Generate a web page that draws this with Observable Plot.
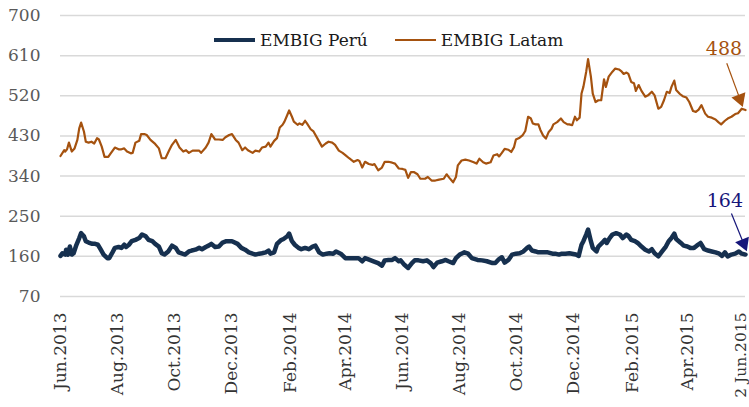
<!DOCTYPE html>
<html>
<head>
<meta charset="utf-8">
<script src="https://cdn.jsdelivr.net/npm/d3@7"></script>
<script src="https://cdn.jsdelivr.net/npm/@observablehq/plot@0.6"></script>
<style>
  html, body { margin: 0; padding: 0; background: #fff; }
  #wrap { position: relative; width: 749px; height: 407px; font-family: "DejaVu Serif", serif; }
  #legend { position: absolute; top: 30px; left: 214px; display: flex; align-items: center; font-size: 17px; color: #1a1a1a; white-space: nowrap; }
  .sw { display: inline-block; width: 41px; margin-right: 5px; }
  .item { display: flex; align-items: center; margin-right: 27px; }
</style>
</head>
<body>
<div id="wrap">
  <div id="chart"></div>
  <div id="legend"></div>
</div>
<script>
// ---- Data (days counted from the start date) ----
const startDate = "2013-06-01";
const seriesNames = ["EMBIG Perú", "EMBIG Latam"];
const seriesColors = ["#16304f", "#a5520f"];

const latamDays = [0,4,5,7,9,11,12,15,18,20,22,25,27,30,33,36,39,41,44,47,51,53,58,62,65,68,71,75,77,80,84,86,90,92,96,101,105,108,112,116,119,123,127,131,134,137,141,144,148,150,155,158,161,165,169,173,176,180,
183,187,190,194,197,200,205,208,212,215,219,222,224,228,231,234,237,239,242,244,247,249,253,255,258,261,263,267,270,274,279,283,286,290,293,297,301,304,308,313,317,319,322,325,329,333,335,339,343,346,350,354,357,361,
365,368,371,374,377,381,384,389,392,396,400,404,409,412,415,419,422,424,428,432,436,441,444,447,451,454,459,462,466,468,471,474,478,481,484,486,490,493,496,499,502,504,507,510,512,515,518,521,524,526,530,534,537,541,543,
546,549,551,554,556,558,561,563,566,568,571,574,577,580,582,585,589,592,596,599,601,604,606,609,612,614,617,620,624,627,631,634,638,641,644,647,650,652,655,657,661,664,668,671,675,678,681,684,688,691,695,699,702,705,709,712,716,720,723,727,731];
const latamValues = [385,398,395,400,415,402,395,402,421,447,460,440,417,415,417,413,425,422,406,383,383,389,404,400,400,402,395,391,392,415,419,434,434,432,421,412,402,380,380,398,410,421,404,395,398,392,397,397,397,392,404,415,434,422,422,421,427,432,
434,421,415,398,404,398,392,397,395,404,406,415,406,419,425,449,455,462,477,487,473,462,455,458,455,464,458,445,440,425,406,413,417,415,410,397,392,387,380,372,376,374,359,372,367,365,367,353,359,372,372,370,368,357,
356,354,336,349,349,344,334,334,338,330,330,332,334,344,336,326,338,364,375,377,375,371,368,379,371,368,371,386,389,384,392,401,399,394,405,422,426,431,441,473,469,458,456,456,444,431,424,439,446,456,461,469,461,456,456,
454,473,465,471,525,540,574,602,563,525,506,510,510,557,540,563,574,581,579,574,569,572,569,551,548,531,544,531,518,521,529,521,491,495,510,529,526,540,554,533,524,519,516,506,486,484,489,499,480,473,471,467,461,456,464,469,473,479,481,491,488];

const peruDays = [0,2,5,6,8,10,12,14,17,20,22,25,27,30,34,37,40,43,46,50,52,55,58,62,65,68,70,73,76,80,84,87,91,94,98,101,105,108,111,115,119,123,126,130,133,137,140,144,148,151,155,158,161,165,169,173,177,180,
183,189,193,197,201,205,208,212,215,219,222,224,228,231,235,238,242,244,247,250,254,257,261,265,269,272,276,280,284,287,291,294,299,304,308,313,318,322,325,330,334,339,343,346,350,354,357,361,
363,367,371,375,378,382,387,391,395,398,402,407,411,414,419,422,426,429,431,435,439,445,450,455,461,464,468,471,474,478,482,486,490,494,498,500,503,507,510,516,520,525,528,532,535,539,543,
550,553,556,558,561,563,566,568,572,574,578,581,583,586,589,593,597,600,604,606,609,613,616,620,624,628,631,634,638,642,646,649,652,655,657,662,665,669,672,676,679,683,687,691,695,699,703,706,709,712,716,720,724,727,731];
const peruValues = [161,167,164,175,164,182,164,167,186,201,212,205,194,191,188,188,186,175,164,156,156,167,179,181,179,186,181,186,194,197,201,209,205,197,194,188,182,167,164,171,184,179,169,166,164,171,173,175,179,176,181,184,188,181,182,191,194,194,
194,188,179,175,169,166,164,166,167,169,173,166,169,188,196,199,205,211,194,186,179,176,179,176,182,184,169,164,166,167,166,171,166,156,156,156,156,149,156,152,149,145,139,151,152,152,156,149,
151,141,134,145,151,151,149,151,145,136,146,149,152,149,145,156,164,167,169,166,156,152,151,149,145,145,154,158,146,152,164,166,167,171,179,182,173,171,169,169,169,166,166,164,166,166,167,
164,161,186,194,209,220,194,179,171,182,190,197,190,201,209,212,209,201,209,206,197,194,190,182,175,171,176,167,160,171,182,194,201,211,199,190,184,182,179,179,184,190,176,173,171,169,166,161,169,160,164,166,171,166,164];

const xTickDates = ["2013-06-01","2013-08-01","2013-10-01","2013-12-01","2014-02-01","2014-04-01","2014-06-01","2014-08-01","2014-10-01","2014-12-01","2015-02-01","2015-04-01","2015-06-02"];
const xTickLabels = ["Jun.2013","Aug.2013","Oct.2013","Dec.2013","Feb.2014","Apr.2014","Jun.2014","Aug.2014","Oct.2014","Dec.2014","Feb.2015","Apr.2015","2 Jun.2015"];
const yTicks = [70,160,250,340,430,520,610,700];
const endLabels = ["164", "488"];
const endLabelColors = ["#16167a", "#a5520f"];

// ---- Build ----
const t0 = Date.parse(startDate + "T00:00:00Z");
const toDate = d => new Date(t0 + d * 864e5);
const rows = [];
peruDays.forEach((d, i) => rows.push({date: toDate(d), value: peruValues[i], s: seriesNames[0]}));
latamDays.forEach((d, i) => rows.push({date: toDate(d), value: latamValues[i], s: seriesNames[1]}));
const peruRows = rows.filter(r => r.s === seriesNames[0]);
const latamRows = rows.filter(r => r.s === seriesNames[1]);

const tickDateObjs = xTickDates.map(s => new Date(s + "T00:00:00Z"));
const labelOf = new Map(tickDateObjs.map((d, i) => [+d, xTickLabels[i]]));
const mainTicks = tickDateObjs.slice(0, -1);
const endTick = tickDateObjs.slice(-1);

// annotations anchored to the last point of each series
const lastP = peruRows[peruRows.length - 1];
const lastL = latamRows[latamRows.length - 1];
const dayMs = 864e5;
const ann = [
  {last: lastP, label: endLabels[0], color: endLabelColors[0], tx: -22, ty: 121, x1: -15, y1: 92, x2: -2, y2: 25, rot: 158},
  {last: lastL, label: endLabels[1], color: endLabelColors[1], tx: -23, ty: 136, x1: -20, y1: 105, x2: -6, y2: 25, rot: 160}
].map(a => ({
  label: a.label, color: a.color, rot: a.rot,
  tx: new Date(+a.last.date + a.tx * dayMs), ty: a.last.value + a.ty,
  x1: new Date(+a.last.date + a.x1 * dayMs), y1: a.last.value + a.y1,
  x2: new Date(+a.last.date + a.x2 * dayMs), y2: a.last.value + a.y2
}));

const axisXOpts = {tickFormat: d => labelOf.get(+d), tickRotate: -90, tickSize: 0, tickPadding: 16, fill: "#333", fontSize: 17, label: null};

const chart = Plot.plot({
  width: 749,
  height: 407,
  marginTop: 15,
  marginBottom: 111,
  marginLeft: 60,
  marginRight: 4,
  style: {fontFamily: "DejaVu Serif, serif", fontSize: "17px", background: "#fff"},
  x: {type: "utc", domain: [toDate(0), toDate(731)]},
  y: {domain: [70, 700]},
  marks: [
    Plot.gridY(yTicks, {stroke: "#d9d9d9", strokeOpacity: 1, strokeWidth: 1.5}),
    Plot.axisY({ticks: yTicks, tickSize: 0, tickPadding: 20, fill: "#595959", fontSize: 17, label: null}),
    Plot.axisX({...axisXOpts, ticks: mainTicks}),
    Plot.axisX({...axisXOpts, ticks: endTick, dx: -4, fontSize: 15.5}),
    Plot.line(latamRows, {x: "date", y: "value", stroke: seriesColors[1], strokeWidth: 2.2, strokeLinejoin: "round"}),
    Plot.line(peruRows, {x: "date", y: "value", stroke: seriesColors[0], strokeWidth: 4.5, strokeLinejoin: "round"}),
    Plot.link(ann, {x1: "x1", y1: "y1", x2: "x2", y2: "y2", stroke: "color", strokeWidth: 1.2}),
    Plot.dot(ann, {x: "x2", y: "y2", symbol: "triangle", r: 5.5, fill: "color", stroke: "none", rotate: "rot"}),
    Plot.text(ann, {x: "tx", y: "ty", text: "label", fill: "color", fontSize: 19, textAnchor: "middle"})
  ]
});
document.getElementById("chart").appendChild(chart);

// legend
const legend = document.getElementById("legend");
seriesNames.forEach((name, i) => {
  const item = document.createElement("span");
  item.className = "item";
  const sw = document.createElement("span");
  sw.className = "sw";
  sw.style.borderTop = (i === 0 ? 4 : 2) + "px solid " + seriesColors[i];
  item.appendChild(sw);
  item.appendChild(document.createTextNode(name));
  legend.appendChild(item);
});
</script>
</body>
</html>
